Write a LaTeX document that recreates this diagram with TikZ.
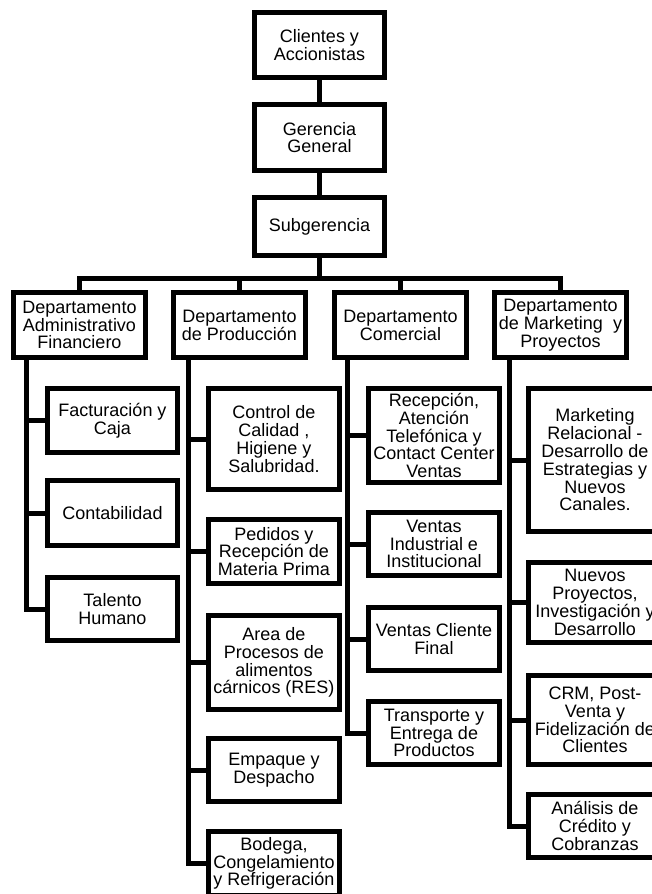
\documentclass[tikz,border=0pt]{standalone}
\usepackage{fontspec}
\setmainfont{Liberation Sans}
\begin{document}
\begin{tikzpicture}[x=1pt,y=-1pt,
  line width=5pt, line join=miter,
  box/.style={draw, line width=5pt, inner sep=0pt, outer sep=0pt, align=center,
    font=\fontsize{18}{17.8}\selectfont},
  link/.style={draw, line width=5pt, line join=miter}]
\clip (0,0) rectangle (652,894);
\fill[white] (0,0) rectangle (652,894);

% top of the chart
\node[box, minimum width=130, minimum height=65] (cli) at (319.5,45) {Clientes y\\Accionistas};
\node[box, minimum width=130, minimum height=66] (ger) at (319.5,137.5) {Gerencia\\General};
\node[box, minimum width=130, minimum height=58] (sub) at (319.5,226.5) {Subgerencia};
\coordinate (bus) at (319.5,278);

% departments
\node[box, minimum width=132, minimum height=65] (adm) at (79.5,325) {Departamento\\Administrativo\\Financiero};
\node[box, minimum width=132, minimum height=65] (prod) at (239.5,325) {Departamento\\de Producción};
\node[box, minimum width=132, minimum height=65] (com) at (400.5,325) {Departamento\\Comercial};
\node[box, minimum width=132, minimum height=65] (mkt) at (560.5,325) {Departamento\\de Marketing\ \ y\\Proyectos};

% trunk tops under each department
\coordinate (admT) at (26.5,358);
\coordinate (prodT) at (188,358);
\coordinate (comT) at (347,358);
\coordinate (mktT) at (509,358);

% administrative / financial
\node[box, minimum width=130, minimum height=64] (fac) at (112.5,420.5) {Facturación y\\Caja};
\node[box, minimum width=130, minimum height=65] (con) at (112.5,513) {Contabilidad};
\node[box, minimum width=130, minimum height=63] (tal) at (112.5,609) {Talento\\Humano};

% production
\node[box, minimum width=131, minimum height=101] (cal) at (274,439) {Control de\\Calidad ,\\Higiene y\\Salubridad.};
\node[box, minimum width=131, minimum height=64] (ped) at (274,551.5) {Pedidos y\\Recepción de\\Materia Prima};
\node[box, minimum width=131, minimum height=94] (area) at (274,662.5) {Area de\\Procesos de\\alimentos\\cárnicos (RES)};
\node[box, minimum width=131, minimum height=63] (emp) at (274,770) {Empaque y\\Despacho};
\node[box, minimum width=131, minimum height=64] (bod) at (274,863.5) {Bodega,\\Congelamiento\\y Refrigeración};

% commercial
\node[box, minimum width=131, minimum height=94] (rec) at (434,435.5) {Recepción,\\Atención\\Telefónica y\\Contact Center\\Ventas};
\node[box, minimum width=131, minimum height=63] (vin) at (434,544) {Ventas\\Industrial e\\Institucional};
\node[box, minimum width=131, minimum height=63] (vcf) at (434,639) {Ventas Cliente\\Final};
\node[box, minimum width=131, minimum height=63] (tra) at (434,733) {Transporte y\\Entrega de\\Productos};

% marketing and projects
\node[box, minimum width=133, minimum height=143] (mrel) at (595,460) {Marketing\\Relacional -\\Desarrollo de\\Estrategias y\\Nuevos\\Canales.};
\node[box, minimum width=133, minimum height=80] (nue) at (595,602.5) {Nuevos\\Proyectos,\\Investigación y\\Desarrollo};
\node[box, minimum width=133, minimum height=89] (crm) at (595,720) {CRM, Post-\\Venta y\\Fidelización de\\Clientes};
\node[box, minimum width=133, minimum height=63] (ana) at (595,826) {Análisis de\\Crédito y\\Cobranzas};

% vertical chain and bus
\draw[link] (cli.south) -- (ger.north);
\draw[link] (ger.south) -- (sub.north);
\draw[link] (sub.south) -- (bus);
\draw[link] (adm.north) |- (bus);
\draw[link] (mkt.north) |- (bus);
\draw[link] (prod.north) -- (prod.north |- bus);
\draw[link] (com.north) -- (com.north |- bus);

% branches to sections
\draw[link] (admT) |- (fac.west);
\draw[link] (admT) |- (con.west);
\draw[link] (admT) |- (tal.west);

\draw[link] (prodT) |- (cal.west);
\draw[link] (prodT) |- (ped.west);
\draw[link] (prodT) |- (area.west);
\draw[link] (prodT) |- (emp.west);
\draw[link] (prodT) |- (bod.west);

\draw[link] (comT) |- (rec.west);
\draw[link] (comT) |- (vin.west);
\draw[link] (comT) |- (vcf.west);
\draw[link] (comT) |- (tra.west);

\draw[link] (mktT) |- (mrel.west);
\draw[link] (mktT) |- (nue.west);
\draw[link] (mktT) |- (crm.west);
\draw[link] (mktT) |- (ana.west);
\end{tikzpicture}
\end{document}
